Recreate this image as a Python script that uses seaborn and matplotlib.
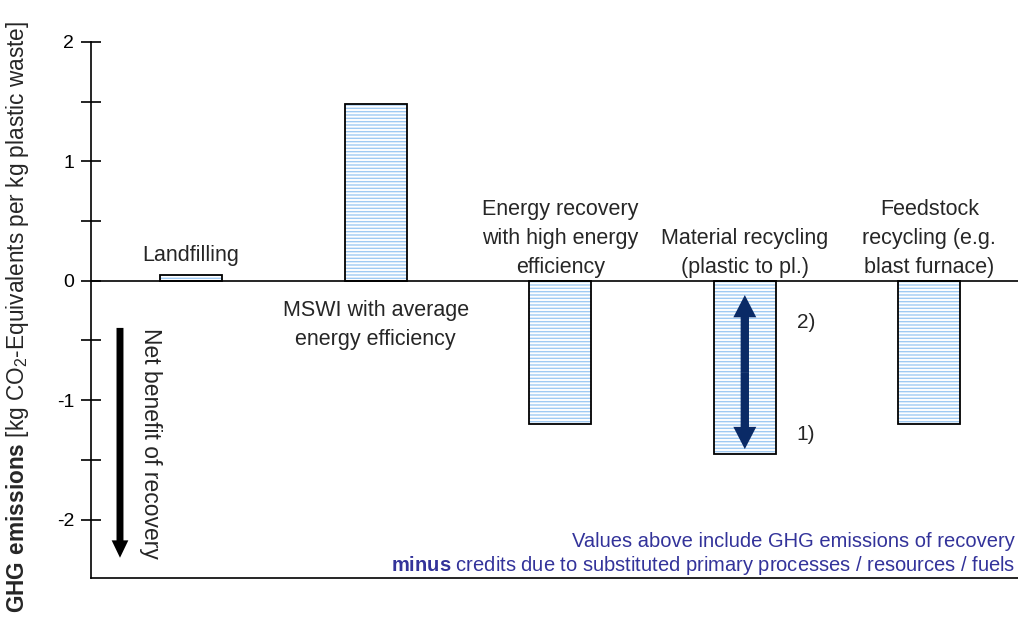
import matplotlib
matplotlib.use("Agg")
import matplotlib.pyplot as plt
import seaborn as sns
import pandas as pd

# --- data ---
categories = ["Landfilling", "MSWI", "Energy recovery", "Material recycling", "Feedstock recycling"]
values = [0.05, 1.48, -1.20, -1.45, -1.20]
bar_labels = [
    "Landfilling",
    "MSWI with average\nenergy efficiency",
    "Energy recovery\nwith high energy\nefficiency",
    "Material recycling\n(plastic to pl.)",
    "Feedstock\nrecycling (e.g.\nblast furnace)",
]
label_y = [0.21, -0.37, 0.35, 0.235, 0.35]
recycling_range = [-0.12, -1.41]   # span of the double arrow (cases 2) and 1))
case_labels = ["2)", "1)"]
case_y = [-0.35, -1.29]
yticks = [-2, -1, 0, 1, 2]

df = pd.DataFrame({"category": categories, "value": values})

sns.set_style("white")
plt.rcParams["font.family"] = ["Liberation Sans", "DejaVu Sans"]
plt.rcParams["mathtext.fontset"] = "custom"
plt.rcParams["mathtext.rm"] = "Liberation Sans"
plt.rcParams["mathtext.bf"] = "Liberation Sans:bold"
plt.rcParams["hatch.linewidth"] = 1.0
plt.rcParams["axes.unicode_minus"] = False

fig = plt.figure(figsize=(10.18, 6.22), dpi=100)
ax = fig.add_axes([0.0894, 0.0707, 0.9106, 0.8618])

# hatched fill, then black outline on top
sns.barplot(data=df, x="category", y="value", order=categories, ax=ax,
            color="white", edgecolor="#9fcaf3", linewidth=0, hatch="-----",
            width=0.336, saturation=1)
sns.barplot(data=df, x="category", y="value", order=categories, ax=ax,
            fill=False, edgecolor="black", linewidth=1.3, width=0.336)

ax.set_xlim(-0.542, 4.48)
ax.set_ylim(-2.49, 2.0)
ax.set_xticks([])
ax.set_xlabel("")
ax.set_yticks(yticks)
ax.set_yticks([-1.5, -0.5, 0.5, 1.5], minor=True)
ax.tick_params(axis="y", which="both", left=True, direction="inout", length=14,
               width=1.2, labelsize=14, pad=5, colors="black")
for side in ["top", "right"]:
    ax.spines[side].set_visible(False)
ax.spines["left"].set_linewidth(1.2)
ax.spines["bottom"].set_linewidth(1.2)
ax.spines["left"].set_color("black")
ax.spines["bottom"].set_color("black")
ax.axhline(0, color="black", lw=1.2, zorder=1)

ax.set_ylabel(r"$\bf{GHG\ emissions}$ [kg CO$_2$-Equivalents per kg plastic waste]",
              fontsize=16.3)
ax.yaxis.set_label_coords(-0.065, 0.487)

for i, (txt, ly) in enumerate(zip(bar_labels, label_y)):
    ax.text(i, ly, txt, ha="center", va="center", fontsize=15.5, linespacing=1.5)

# double arrow inside material recycling bar
mid = sum(recycling_range) / 2
for end in recycling_range:
    ax.annotate("", xy=(3, end), xytext=(3, mid),
                arrowprops=dict(arrowstyle="simple,head_length=16,head_width=16.5,tail_width=6",
                                color="#0a2a66", lw=0, mutation_scale=1,
                                shrinkA=0, shrinkB=0))
for txt, cy in zip(case_labels, case_y):
    ax.text(3.33, cy, txt, ha="center", va="center", fontsize=15)

# net benefit arrow
ax.annotate("", xy=(-0.385, -2.32), xytext=(-0.385, -0.395),
            arrowprops=dict(arrowstyle="simple,head_length=12.5,head_width=12,tail_width=5",
                            color="black", lw=0, mutation_scale=1,
                            shrinkA=0, shrinkB=0))
ax.text(-0.222, -1.36, "Net benefit of recovery", rotation=270, ha="center",
        va="center", fontsize=16.5)

note_color = "#33339a"
ax.text(0.997, 0.069, "Values above include GHG emissions of recovery",
        transform=ax.transAxes, ha="right", va="center", fontsize=14.5, color=note_color)
ax.text(0.997, 0.024,
        r"$\bf{minus}$ credits due to substituted primary processes / resources / fuels",
        transform=ax.transAxes, ha="right", va="center", fontsize=14.5, color=note_color)

fig.savefig("out.png", dpi=100)
